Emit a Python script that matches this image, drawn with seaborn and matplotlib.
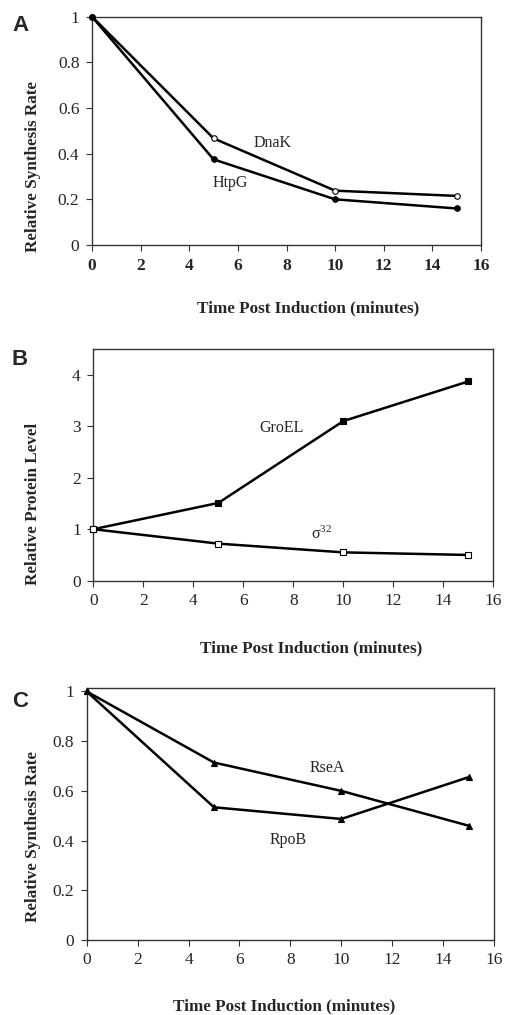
import matplotlib
matplotlib.use("Agg")
import matplotlib.pyplot as plt
import seaborn as sns
import pandas as pd

sns.set_style("ticks")
plt.rcParams['font.family'] = ['Liberation Serif', 'DejaVu Serif']

# data
time_min = [0, 5, 10, 15]

dnak = [1.0, 0.467, 0.238, 0.215]
htpg = [1.0, 0.375, 0.200, 0.160]

groel = [1.0, 1.51, 3.10, 3.87]
sigma32 = [1.0, 0.72, 0.55, 0.50]

rsea = [1.0, 0.714, 0.600, 0.460]
rpob = [1.0, 0.534, 0.487, 0.655]

x_ticks = [0, 2, 4, 6, 8, 10, 12, 14, 16]
ya_ticks = [0, 0.2, 0.4, 0.6, 0.8, 1]
ya_labels = ['0', '0.2', '0.4', '0.6', '0.8', '1']
yb_ticks = [0, 1, 2, 3, 4]

W, H = 506, 1015
fig = plt.figure(figsize=(W / 100, H / 100), dpi=100)


def add_axes(left, right, top, bottom):
    return fig.add_axes([left / W, 1 - bottom / H, (right - left) / W, (bottom - top) / H])


def style_axes(ax, ylim, yticks, ylabels, bold_x=False):
    ax.set_xlim(0, 16)
    ax.set_ylim(*ylim)
    ax.set_xticks(x_ticks)
    ax.set_xticklabels([str(t) for t in x_ticks], fontsize=12.5,
                       fontweight='bold' if bold_x else 'normal')
    ax.set_yticks(yticks)
    ax.set_yticklabels(ylabels, fontsize=12.5)
    ax.tick_params(length=4, width=0.8, color='#333333', pad=5)
    for s in ax.spines.values():
        s.set_visible(True)
        s.set_color('#333333')
        s.set_linewidth(1.0)
    ax.set_xlabel('')
    ax.set_ylabel('')


def draw(ax, y, marker, filled, ms=4):
    df = pd.DataFrame({'t': time_min, 'v': y})
    sns.lineplot(data=df, x='t', y='v', ax=ax, color='black', linewidth=1.8,
                 marker=marker, markersize=ms, markeredgecolor='black',
                 markeredgewidth=0.8, markerfacecolor='black' if filled else 'white',
                 clip_on=False, zorder=3)


# ---- panel A
axA = add_axes(92, 481, 16.7, 245)
draw(axA, dnak, 'o', False)
draw(axA, htpg, 'o', True)
style_axes(axA, (0, 1), ya_ticks, ya_labels, bold_x=True)
axA.text(7.44, 0.447, 'DnaK', fontsize=11.5, ha='center', va='center')
axA.text(5.68, 0.27, 'HtpG', fontsize=11.5, ha='center', va='center')

# ---- panel B
axB = add_axes(93.3, 493.3, 349, 580.7)
draw(axB, groel, 's', True)
draw(axB, sigma32, 's', False)
style_axes(axB, (0, 4.5), yb_ticks, [str(t) for t in yb_ticks])
axB.text(7.55, 2.96, 'GroEL', fontsize=11.5, ha='center', va='center')
axB.text(9.15, 0.905, r'$\mathregular{σ^{32}}$', fontsize=11.5, ha='center', va='center')

# ---- panel C
axC = add_axes(86.7, 494, 688, 940)
draw(axC, rsea, '^', True)
draw(axC, rpob, '^', True)
style_axes(axC, (0, 1.014), ya_ticks, ya_labels)
axC.text(9.44, 0.693, 'RseA', fontsize=11.5, ha='center', va='center')
axC.text(7.9, 0.403, 'RpoB', fontsize=11.5, ha='center', va='center')

# panel letters
for letter, y in [('A', 15), ('B', 349), ('C', 691)]:
    fig.text(12 / W, 1 - y / H, letter, fontsize=16, fontweight='bold',
             family=['Liberation Sans', 'DejaVu Sans'], ha='left', va='top')

# axis titles
ylabs = [('Relative Synthesis Rate', 167), ('Relative Protein Level', 504),
         ('Relative Synthesis Rate', 837)]
for txt, yc in ylabs:
    fig.text(33 / W, 1 - yc / H, txt, rotation=90, fontsize=12.3, fontweight='bold',
             ha='center', va='center')

xlabs = [(308, 308), (311, 648), (284, 1006)]
for xc, yc in xlabs:
    fig.text(xc / W, 1 - yc / H, 'Time Post Induction (minutes)', fontsize=12.3,
             fontweight='bold', ha='center', va='center')

fig.savefig('out.png', dpi=100, facecolor='white')
